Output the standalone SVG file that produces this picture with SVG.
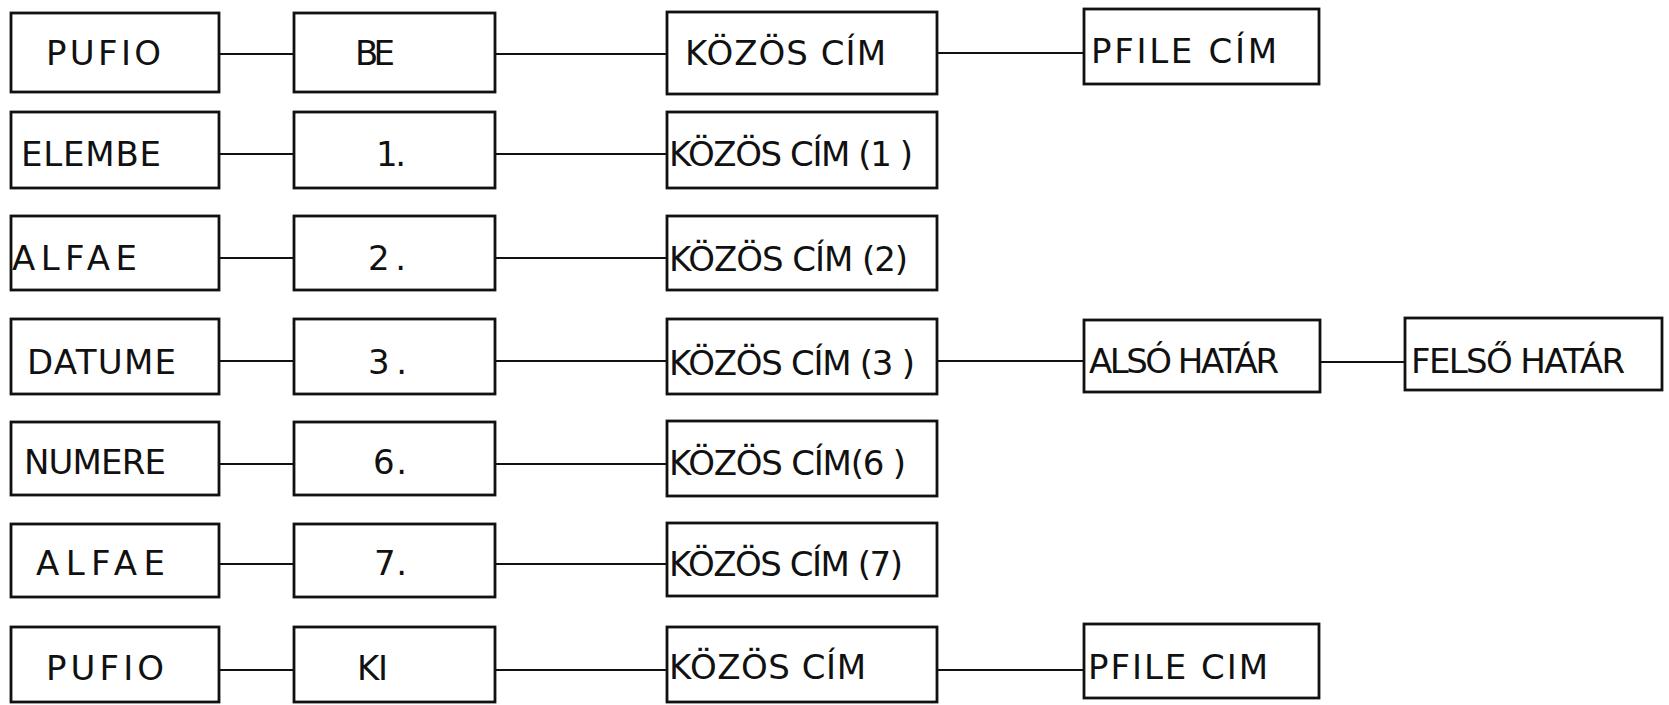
<svg xmlns="http://www.w3.org/2000/svg" width="1669" height="705" viewBox="0 0 1669 705">
<style>
.box{fill:#fff;stroke:#111;stroke-width:2.8}
.ln{stroke:#111;stroke-width:2;fill:none}
text{font-family:"DejaVu Sans","Liberation Sans",sans-serif;font-size:34px;fill:#111}
</style>
<rect width="1669" height="705" fill="#fff"/>
<g id="connectors">
<line class="ln" x1="219" y1="54" x2="294" y2="54"/>
<line class="ln" x1="495" y1="54" x2="667" y2="54"/>
<line class="ln" x1="937" y1="53" x2="1084" y2="53"/>
<line class="ln" x1="219" y1="154" x2="294" y2="154"/>
<line class="ln" x1="495" y1="154" x2="667" y2="154"/>
<line class="ln" x1="219" y1="258" x2="294" y2="258"/>
<line class="ln" x1="495" y1="258" x2="667" y2="258"/>
<line class="ln" x1="219" y1="361" x2="294" y2="361"/>
<line class="ln" x1="495" y1="361" x2="667" y2="361"/>
<line class="ln" x1="937" y1="361" x2="1084" y2="361"/>
<line class="ln" x1="1320" y1="362" x2="1405" y2="362"/>
<line class="ln" x1="219" y1="464" x2="294" y2="464"/>
<line class="ln" x1="495" y1="464" x2="667" y2="464"/>
<line class="ln" x1="219" y1="564" x2="294" y2="564"/>
<line class="ln" x1="495" y1="564" x2="667" y2="564"/>
<line class="ln" x1="219" y1="670" x2="294" y2="670"/>
<line class="ln" x1="495" y1="670" x2="667" y2="670"/>
<line class="ln" x1="937" y1="670" x2="1084" y2="670"/>
</g>
<g id="pufio-be"><rect class="box" x="11" y="13" width="208" height="79"/><text x="46" y="65" textLength="115" lengthAdjust="spacing">PUFIO</text></g>
<g id="be"><rect class="box" x="294" y="13" width="201" height="79"/><text x="355" y="65" textLength="40" lengthAdjust="spacing">BE</text></g>
<g id="kozos-be"><rect class="box" x="667" y="12" width="270" height="82"/><text x="685" y="65" textLength="201" lengthAdjust="spacing">KÖZÖS CÍM</text></g>
<g id="pfile-be"><rect class="box" x="1084" y="9" width="235" height="75"/><text x="1091" y="63" textLength="186" lengthAdjust="spacing">PFILE CÍM</text></g>

<g id="elembe"><rect class="box" x="11" y="112" width="208" height="76"/><text x="21" y="166" textLength="140" lengthAdjust="spacing">ELEMBE</text></g>
<g id="n1"><rect class="box" x="294" y="112" width="201" height="76"/><text x="376" y="166" textLength="30" lengthAdjust="spacing">1.</text></g>
<g id="kozos1"><rect class="box" x="667" y="112" width="270" height="76"/><text x="669" y="166" textLength="244" lengthAdjust="spacing">KÖZÖS CÍM (1 )</text></g>

<g id="alfae2"><rect class="box" x="11" y="216" width="208" height="74"/><text x="12" y="270" textLength="125" lengthAdjust="spacing">ALFAE</text></g>
<g id="n2"><rect class="box" x="294" y="216" width="201" height="74"/><text x="368" y="270" textLength="38" lengthAdjust="spacing">2.</text></g>
<g id="kozos2"><rect class="box" x="667" y="216" width="270" height="74"/><text x="669" y="271" textLength="239" lengthAdjust="spacing">KÖZÖS CÍM (2)</text></g>

<g id="datume"><rect class="box" x="11" y="319" width="208" height="75"/><text x="27" y="374" textLength="149" lengthAdjust="spacing">DATUME</text></g>
<g id="n3"><rect class="box" x="294" y="319" width="201" height="75"/><text x="368" y="374" textLength="39" lengthAdjust="spacing">3.</text></g>
<g id="kozos3"><rect class="box" x="667" y="319" width="270" height="75"/><text x="669" y="375" textLength="246" lengthAdjust="spacing">KÖZÖS CÍM (3 )</text></g>
<g id="also"><rect class="box" x="1084" y="320" width="236" height="72"/><text x="1089" y="373" textLength="190" lengthAdjust="spacing">ALSÓ HATÁR</text></g>
<g id="felso"><rect class="box" x="1405" y="318" width="257" height="72"/><text x="1411" y="373" textLength="214" lengthAdjust="spacing">FELSŐ HATÁR</text></g>

<g id="numere"><rect class="box" x="11" y="422" width="208" height="73"/><text x="24" y="474" textLength="142" lengthAdjust="spacing">NUMERE</text></g>
<g id="n6"><rect class="box" x="294" y="422" width="201" height="73"/><text x="373" y="474" textLength="34" lengthAdjust="spacing">6.</text></g>
<g id="kozos6"><rect class="box" x="667" y="421" width="270" height="75"/><text x="669" y="475" textLength="237" lengthAdjust="spacing">KÖZÖS CÍM(6 )</text></g>

<g id="alfae7"><rect class="box" x="11" y="524" width="208" height="73"/><text x="36" y="575" textLength="129" lengthAdjust="spacing">ALFAE</text></g>
<g id="n7"><rect class="box" x="294" y="524" width="201" height="73"/><text x="374" y="575" textLength="33" lengthAdjust="spacing">7.</text></g>
<g id="kozos7"><rect class="box" x="667" y="523" width="270" height="73"/><text x="669" y="576" textLength="234" lengthAdjust="spacing">KÖZÖS CÍM (7)</text></g>

<g id="pufio-ki"><rect class="box" x="11" y="627" width="208" height="75"/><text x="46" y="680" textLength="118" lengthAdjust="spacing">PUFIO</text></g>
<g id="ki"><rect class="box" x="294" y="627" width="201" height="75"/><text x="357" y="680" textLength="31" lengthAdjust="spacing">KI</text></g>
<g id="kozos-ki"><rect class="box" x="667" y="627" width="270" height="75"/><text x="669" y="679" textLength="197" lengthAdjust="spacing">KÖZÖS CÍM</text></g>
<g id="pfile-ki"><rect class="box" x="1084" y="624" width="235" height="74"/><text x="1088" y="679" textLength="180" lengthAdjust="spacing">PFILE CIM</text></g>
</svg>
